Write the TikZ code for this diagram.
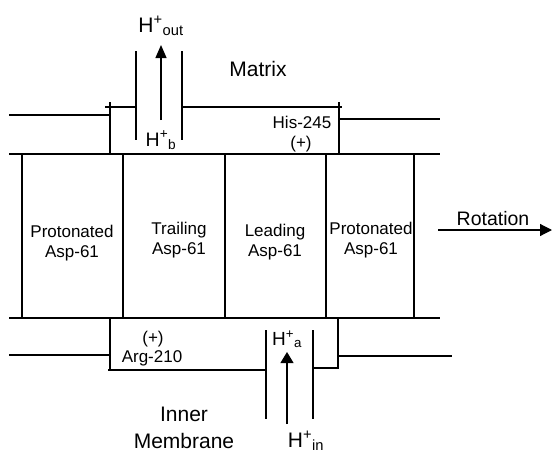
\documentclass[tikz,border=0pt]{standalone}
\usepackage{fontspec}
\setmainfont{Liberation Sans}
\usetikzlibrary{arrows.meta,positioning}
\newcommand{\Hion}[1]{H\textsuperscript{+}\textsubscript{#1}}
\tikzset{
  wall/.style={line width=1.2pt},
  flow/.style={line width=1.2pt,-{Triangle[length=13pt,width=11pt]}},
  lbl/.style={inner sep=0pt,align=center,font=\fontsize{17}{20}\selectfont},
  biglbl/.style={inner sep=0pt,align=center,font=\fontsize{21}{27}\selectfont}
}

\begin{document}
\begin{tikzpicture}[x=1pt,y=-1pt]
 \useasboundingbox (0,0) rectangle (552,453);
 % rotor band
 \draw[wall] (9,154) -- (440,154);
 \draw[wall] (9,318) -- (440,318);
 \foreach \cx in {22,123,225,326,414}
   \draw[wall] (\cx,154) -- (\cx,318);
 % upper stator (matrix side)
 \draw[wall] (9,115) -- (110,115);
 \draw[wall] (110,154) -- (110,102);
 \draw[wall] (105,107) -- (136,107);
 \draw[wall] (136,51) -- (136,140);
 \draw[wall] (182,51) -- (182,140);
 \draw[wall] (182,107) -- (342,107);
 \draw[wall] (339,154) -- (339,102);
 \draw[wall] (339,119) -- (440,119);
 % lower stator (inner membrane side)
 \draw[wall] (9,355) -- (110,355);
 \draw[wall] (110,318) -- (110,371);
 \draw[wall] (108,370) -- (266,370);
 \draw[wall] (266,330) -- (266,419);
 \draw[wall] (313,330) -- (313,419);
 \draw[wall] (313,368) -- (338,368) -- (338,318);
 \draw[wall] (338,356) -- (452,356);
 % labels
 \node[biglbl,anchor=base] (hout) at (161,32) {\Hion{out}};
 \node[biglbl,anchor=base] (matrix) at (258,76) {Matrix};
 \node[lbl,font=\fontsize{19.5}{22}\selectfont,anchor=base] (hb) at (161,146) {\Hion{b}};
 \node[lbl,anchor=base] (his) at (302,128) {His-245};
 \node[lbl,anchor=base] (hisplus) at (301,148) {(+)};
 \node[lbl] (protA) at (72,243) {Protonated\\Asp-61};
 \node[lbl] (trail) at (179,240) {Trailing\\Asp-61};
 \node[lbl] (lead) at (275,242) {Leading\\Asp-61};
 \node[lbl] (protB) at (371,240) {Protonated\\Asp-61};
 \node[lbl,font=\fontsize{19.5}{22}\selectfont,anchor=base] (rot) at (493,225) {Rotation};
 \node[lbl,anchor=base] (argplus) at (153,343) {(+)};
 \node[lbl,anchor=base] (arg) at (152,362) {Arg-210};
 \node[lbl,font=\fontsize{19}{22}\selectfont,anchor=base] (ha) at (287,345) {\Hion{a}};
 \node[biglbl] (inner) at (184,428) {Inner\\Membrane};
 \node[biglbl,anchor=base] (hin) at (306,447) {\Hion{in}};
 % proton paths and rotation
 \coordinate (bTail) at (161,120);
 \coordinate (outTip) at (161,45);
 \coordinate (inTail) at (287,424);
 \coordinate (aTip) at (287,352);
 \coordinate (rotTail) at (438,230);
 \coordinate (rotTip) at (552,230);
 \draw[flow] (bTail) -- (outTip);
 \draw[flow,-{Triangle[length=11pt,width=13pt]}] (inTail) -- (aTip);
 \draw[flow,-{Triangle[length=12pt,width=12pt]}] (rotTail) -- (rotTip);
\end{tikzpicture}
\end{document}
